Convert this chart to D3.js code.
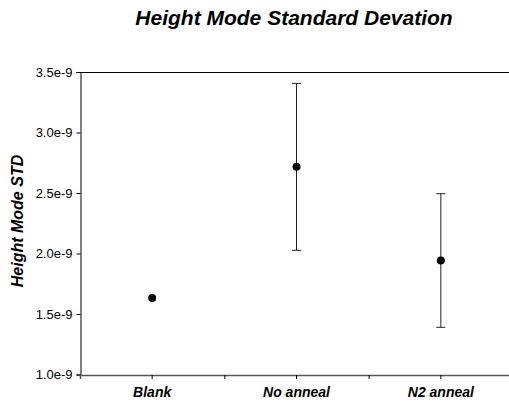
<!DOCTYPE html>
<html>
<head>
<meta charset="utf-8">
<script src="https://cdn.jsdelivr.net/npm/d3@7/dist/d3.min.js"></script>
<style>
  html, body { margin: 0; padding: 0; background: #fff; }
  svg { display: block; }
  text { font-family: Arial, "Liberation Sans", sans-serif; fill: #000; }
</style>
</head>
<body>
<svg id="chart" width="509" height="404"></svg>
<script>
// Sample groups and their mean height-mode standard deviation with error extents
const categories = ["Blank", "No anneal", "N2 anneal"];
const means = [1.632e-9, 2.716e-9, 1.942e-9];
const errors = [0, 0.69e-9, 0.552e-9];
const yTicks = [1.0e-9, 1.5e-9, 2.0e-9, 2.5e-9, 3.0e-9, 3.5e-9];
const yTickLabels = ["1.0e-9", "1.5e-9", "2.0e-9", "2.5e-9", "3.0e-9", "3.5e-9"];

(function () {
  const svg = d3.select("#chart");
  const plotLeft = 80, plotRight = 513, plotTop = 72, plotBottom = 374.5;
  const font = "Arial, 'Liberation Sans', sans-serif";

  const x = d3.scaleBand().domain(categories).range([plotLeft, plotRight]).padding(0);
  const y = d3.scaleLinear().domain([1.0e-9, 3.5e-9]).range([plotBottom, plotTop]);

  // Title
  svg.append("text")
    .attr("x", 294).attr("y", 25)
    .attr("text-anchor", "middle")
    .style("font-size", "21px").style("font-weight", "bold").style("font-style", "italic")
    .text("Height Mode Standard Devation");

  // Top frame line
  svg.append("line")
    .attr("x1", plotLeft).attr("x2", plotRight)
    .attr("y1", plotTop + 0.5).attr("y2", plotTop + 0.5)
    .attr("stroke", "#000").attr("stroke-width", 1);

  // Y axis
  const yAxis = d3.axisLeft(y)
    .tickValues(yTicks)
    .tickFormat((d, i) => yTickLabels[i])
    .tickSize(4).tickPadding(4);
  const gy = svg.append("g").attr("transform", `translate(${plotLeft + 0.5},0)`).call(yAxis);
  gy.select(".domain").attr("stroke", "#000");
  gy.selectAll(".tick line").attr("stroke", "#000");
  gy.selectAll("text").style("font-size", "13px").style("font-family", font);

  // X axis: ticks at group centres plus dividers between groups
  const xAxis = d3.axisBottom(x).tickSize(4).tickPadding(8);
  const gx = svg.append("g").attr("transform", `translate(0,${plotBottom + 0.5})`).call(xAxis);
  gx.select(".domain").attr("stroke", "#555").attr("stroke-width", 1.5);
  gx.selectAll(".tick line").attr("stroke", "#000");
  gx.selectAll("text")
    .attr("dy", null).attr("y", 21.5)
    .style("font-size", "14px").style("font-weight", "bold").style("font-style", "italic")
    .style("font-family", font);
  gx.selectAll(".divider")
    .data(categories.slice(1))
    .enter().append("line")
    .attr("class", "divider")
    .attr("x1", d => x(d) + 0.5).attr("x2", d => x(d) + 0.5)
    .attr("y1", 0).attr("y2", 4)
    .attr("stroke", "#000");

  // Y axis title
  svg.append("text")
    .attr("transform", `translate(23,221) rotate(-90)`)
    .attr("text-anchor", "middle")
    .style("font-size", "16px").style("font-weight", "bold").style("font-style", "italic")
    .text("Height Mode STD");

  // Error bars
  const cx = d => x(d) + x.bandwidth() / 2;
  const bars = svg.append("g").selectAll("g")
    .data(categories.map((c, i) => ({ c, m: means[i], e: errors[i] })).filter(d => d.e > 0))
    .enter().append("g").attr("stroke", "#222").attr("stroke-width", 1);
  bars.append("line")
    .attr("x1", d => cx(d.c)).attr("x2", d => cx(d.c))
    .attr("y1", d => y(d.m + d.e)).attr("y2", d => y(d.m - d.e));
  bars.append("line")
    .attr("x1", d => cx(d.c) - 4.5).attr("x2", d => cx(d.c) + 4.5)
    .attr("y1", d => y(d.m + d.e)).attr("y2", d => y(d.m + d.e));
  bars.append("line")
    .attr("x1", d => cx(d.c) - 4.5).attr("x2", d => cx(d.c) + 4.5)
    .attr("y1", d => y(d.m - d.e)).attr("y2", d => y(d.m - d.e));

  // Mean markers
  svg.append("g").selectAll("circle")
    .data(categories.map((c, i) => ({ c, m: means[i] })))
    .enter().append("circle")
    .attr("cx", d => cx(d.c)).attr("cy", d => y(d.m))
    .attr("r", 4).attr("fill", "#000");
})();
</script>
</body>
</html>
